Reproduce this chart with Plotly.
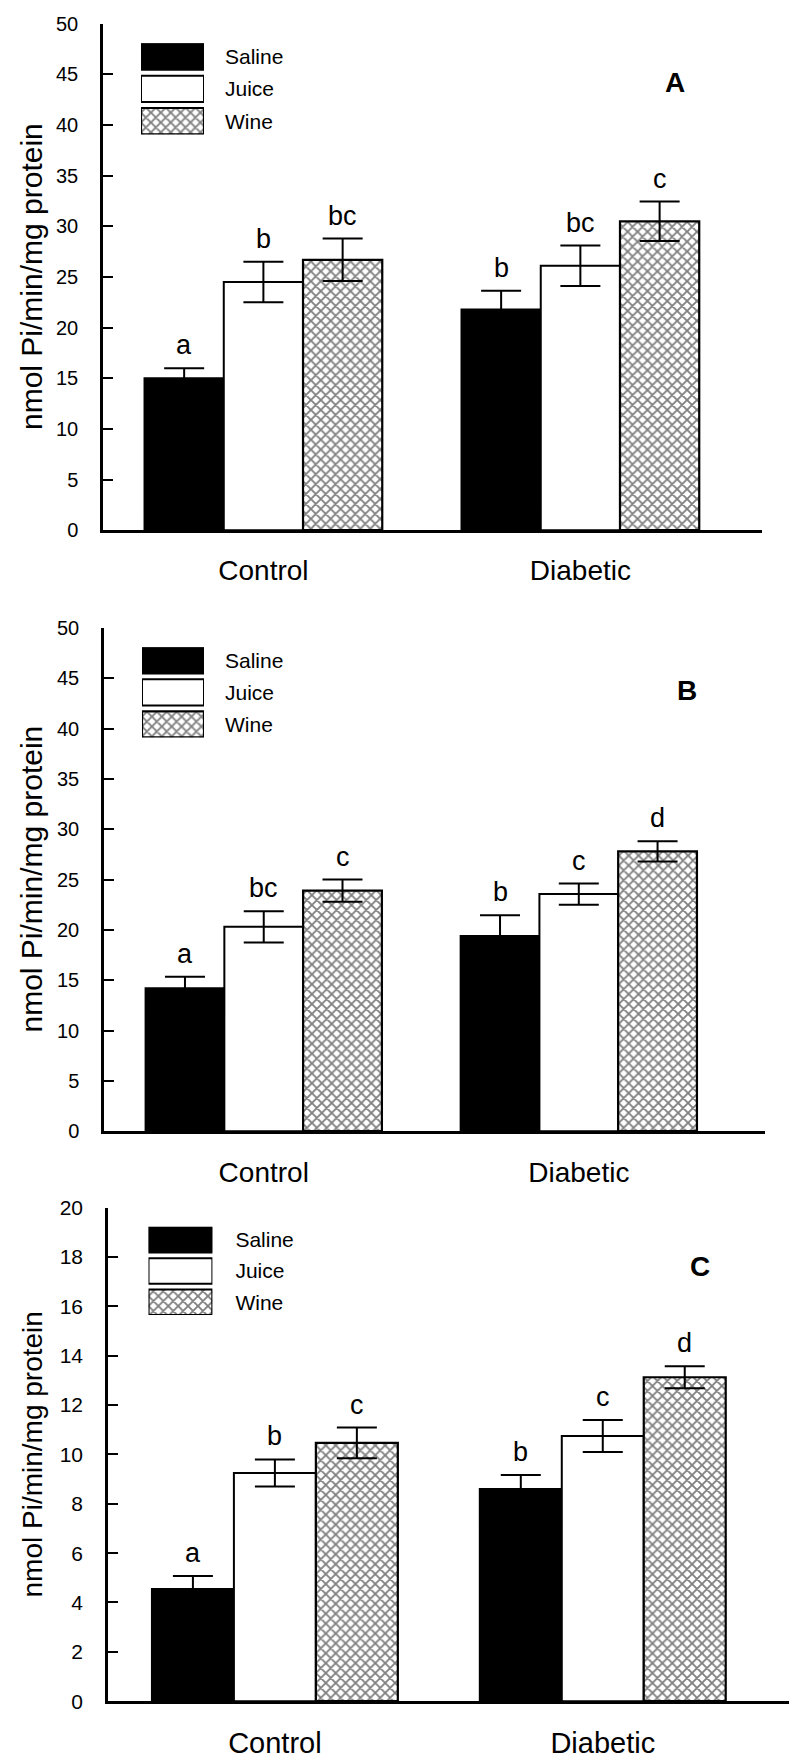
import plotly.graph_objects as go

W, H = 789, 1762

groups = ["Control", "Diabetic"]
treatments = ["Saline", "Juice", "Wine"]

# Panel A
a_saline = [15.0, 21.8]
a_saline_err = [1.0, 1.85]
a_juice = [24.5, 26.1]
a_juice_err = [2.0, 2.0]
a_wine = [26.7, 30.5]
a_wine_err = [2.1, 1.95]
a_letters = [["a", "b"], ["b", "bc"], ["bc", "c"]]

# Panel B
b_saline = [14.2, 19.4]
b_saline_err = [1.15, 2.05]
b_juice = [20.3, 23.55]
b_juice_err = [1.55, 1.05]
b_wine = [23.9, 27.8]
b_wine_err = [1.1, 1.0]
b_letters = [["a", "b"], ["bc", "c"], ["c", "d"]]

# Panel C
c_saline = [4.55, 8.6]
c_saline_err = [0.52, 0.57]
c_juice = [9.25, 10.75]
c_juice_err = [0.55, 0.65]
c_wine = [10.47, 13.13]
c_wine_err = [0.62, 0.45]
c_letters = [["a", "b"], ["b", "c"], ["c", "d"]]

y_title = "nmol Pi/min/mg protein"
FONT = "Arial, Liberation Sans, sans-serif"


def px_x(p):
    return p / W


def px_y(p):
    return 1 - p / H


def bar_style(t):
    if t == "Saline":
        return dict(color="black", line=dict(color="black", width=2))
    if t == "Juice":
        return dict(color="white", line=dict(color="black", width=2))
    return dict(color="white", line=dict(color="black", width=2.2),
                pattern=dict(shape="x", fgcolor="black", bgcolor="white",
                             size=7, solidity=0.45))


panels = [
    dict(label="A", means=[a_saline, a_juice, a_wine],
         errs=[a_saline_err, a_juice_err, a_wine_err], letters=a_letters,
         x0=103, x1=762, ytop=12, ybot=525, xr=[-0.506, 1.573],
         ymax=50, dtick=5, tickfont=20, catfont=28, titlefont=30, titlex=32,
         leg=(141, 204, 31.7, 124), legfont=21, legstand=20,
         tag=(675, 71)),
    dict(label="B", means=[b_saline, b_juice, b_wine],
         errs=[b_saline_err, b_juice_err, b_wine_err], letters=b_letters,
         x0=104, x1=765, ytop=624, ybot=1134, xr=[-0.507, 1.591],
         ymax=50, dtick=5, tickfont=20, catfont=28, titlefont=30, titlex=32,
         leg=(142, 204, 643.7, 735), legfont=21, legstand=20,
         tag=(687, 687)),
    dict(label="C", means=[c_saline, c_juice, c_wine],
         errs=[c_saline_err, c_juice_err, c_wine_err], letters=c_letters,
         x0=108, x1=789, ytop=1211.6, ybot=1711.5, xr=[-0.509, 1.568],
         ymax=20, dtick=2, tickfont=21, catfont=29, titlefont=28, titlex=32,
         leg=(148.5, 212.4, 1230.9, 1320.3), legfont=21, legstand=22,
         tag=(699.5, 1271)),
]

fig = go.Figure()
layout = dict(
    width=W, height=H, margin=dict(l=0, r=0, t=0, b=0),
    paper_bgcolor="white", plot_bgcolor="rgba(0,0,0,0)",
    barmode="group", bargap=0.25, bargroupgap=0, showlegend=False,
    font=dict(family=FONT, color="black"),
)
annotations = []

for i, p in enumerate(panels):
    n = i + 1
    xa, ya = f"x{n}", f"y{n}"
    xk = "xaxis" if n == 1 else f"xaxis{n}"
    yk = "yaxis" if n == 1 else f"yaxis{n}"

    for ti, t in enumerate(treatments):
        fig.add_trace(go.Bar(
            x=groups, y=p["means"][ti], name=t, xaxis=xa, yaxis=ya,
            marker=bar_style(t),
            error_y=dict(type="data", array=p["errs"][ti], visible=True,
                         color="black", thickness=2, width=20),
        ))
        for gi in range(len(groups)):
            annotations.append(dict(
                x=gi + (ti - 1) * 0.25, y=p["means"][ti][gi] + p["errs"][ti][gi],
                xref=xa, yref=ya, text=p["letters"][ti][gi], showarrow=False,
                xanchor="center", yanchor="bottom", yshift=6,
                font=dict(size=27, family=FONT, color="black"),
            ))

    layout[xk] = dict(
        domain=[px_x(p["x0"]), px_x(p["x1"])], range=p["xr"], anchor=ya,
        type="category", showline=True, linecolor="black", linewidth=2.5,
        ticks="", showgrid=False, zeroline=False,
        tickfont=dict(size=p["catfont"], family=FONT), ticklabelstandoff=14,
    )
    layout[yk] = dict(
        domain=[px_y(p["ybot"]), px_y(p["ytop"])], range=[0, p["ymax"]],
        anchor=xa, dtick=p["dtick"], tick0=0, showline=True, linecolor="black",
        linewidth=2.5, ticks="inside", ticklen=10, tickwidth=2,
        tickcolor="black", showgrid=False, zeroline=False,
        tickfont=dict(size=p["tickfont"], family=FONT), ticklabelstandoff=18,
    )

    # legend swatches on their own small axes
    lx0, lx1, ly0, ly1 = p["leg"]
    m = n + 3
    lxa, lya = f"x{m}", f"y{m}"
    for t in treatments:
        fig.add_trace(go.Bar(
            x=[1], y=[t], orientation="h", xaxis=lxa, yaxis=lya,
            width=0.816, marker=bar_style(t), hoverinfo="skip",
        ))
    layout[f"xaxis{m}"] = dict(
        domain=[px_x(lx0), px_x(lx1)], range=[0, 1], anchor=lya,
        visible=False, fixedrange=True,
    )
    layout[f"yaxis{m}"] = dict(
        domain=[px_y(ly1), px_y(ly0)], anchor=lxa, side="right",
        type="category", categoryorder="array", categoryarray=treatments,
        range=[2.408, -0.408], showline=False, ticks="", showgrid=False,
        zeroline=False, tickfont=dict(size=p["legfont"], family=FONT),
        ticklabelstandoff=p["legstand"], fixedrange=True,
    )

    # axis title
    annotations.append(dict(
        x=px_x(p["titlex"]), y=px_y((p["ytop"] + p["ybot"]) / 2),
        xref="paper", yref="paper", text=y_title, textangle=-90,
        showarrow=False, xanchor="center", yanchor="middle",
        font=dict(size=p["titlefont"], family=FONT, color="black"),
    ))
    # panel tag
    tx, ty = p["tag"]
    annotations.append(dict(
        x=px_x(tx), y=px_y(ty), xref="paper", yref="paper",
        text=f"<b>{p['label']}</b>", showarrow=False,
        xanchor="center", yanchor="middle",
        font=dict(size=28, family=FONT, color="black"),
    ))

layout["annotations"] = annotations
fig.update_layout(**layout)
fig.write_html("out.html")
